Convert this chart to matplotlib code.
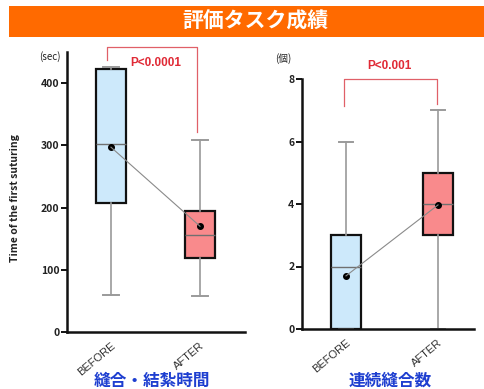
import matplotlib
matplotlib.use("Agg")
import matplotlib.pyplot as plt
from matplotlib.patches import Rectangle

plt.rcParams['font.family'] = ['Noto Sans CJK JP', 'DejaVu Sans']

# ---- data ----
groups = ["BEFORE", "AFTER"]

# Time of the first suturing (sec)
time_q1 = [207, 119]
time_med = [302, 156]
time_q3 = [422, 194]
time_lo = [60, 58]
time_hi = [426, 308]
time_mean = [297, 170]
time_p = "P<0.0001"

# Number of consecutive sutures
cnt_q1 = [0, 3]
cnt_med = [2, 4]
cnt_q3 = [3, 5]
cnt_lo = [0, 0]
cnt_hi = [6, 7]
cnt_mean = [1.7, 3.97]
cnt_p = "P<0.001"

title = "評価タスク成績"
sub_left = "縫合・結紮時間"
sub_right = "連続縫合数"

W, H = 485, 389
fig = plt.figure(figsize=(W / 100, H / 100), dpi=100)
fig.patch.set_facecolor("white")


def fx(x):
    return x / W


def fy(y):
    return 1 - y / H


# orange banner
fig.patches.append(Rectangle((fx(9), fy(37)), fx(485) - fx(9), fy(6) - fy(37),
                             transform=fig.transFigure, facecolor="#FF6A00",
                             edgecolor="none", zorder=0))
fig.text(fx(255), fy(21.5), title, color="white", fontsize=15, fontweight="bold",
         ha="center", va="center")

box_colors = ["#CDE9FB", "#F98A8C"]


def draw_panel(ax, q1, med, q3, lo, hi, mean, ylim, ticks, xlim, width):
    stats = []
    for i in range(2):
        stats.append(dict(med=med[i], q1=q1[i], q3=q3[i], whislo=lo[i],
                          whishi=hi[i], mean=mean[i], fliers=[]))
    bp = ax.bxp(stats, positions=[1, 2], widths=width, patch_artist=True,
                showmeans=True, showfliers=False,
                boxprops=dict(edgecolor="#111111", linewidth=1.6),
                whiskerprops=dict(color="#9a9a9a", linewidth=1.2),
                capprops=dict(color="#9a9a9a", linewidth=1.4),
                medianprops=dict(color="#707070", linewidth=1.0),
                meanprops=dict(marker="o", markerfacecolor="black",
                               markeredgecolor="black", markersize=4))
    for patch, c in zip(bp["boxes"], box_colors):
        patch.set_facecolor(c)
    ax.plot([1, 2], mean, color="#8a8a8a", linewidth=0.8, zorder=4)
    ax.set_xlim(*xlim)
    ax.set_ylim(*ylim)
    ax.set_yticks(ticks)
    ax.set_yticklabels([str(t) for t in ticks], fontsize=7.5, fontweight="bold",
                       color="#222222")
    ax.set_xticks([1, 2])
    ax.set_xticklabels(groups, rotation=40, ha="right", va="top",
                       rotation_mode="anchor", fontsize=8, color="#333333",
                       family=["Liberation Sans", "DejaVu Sans"])
    ax.tick_params(axis="x", length=0, pad=6)
    ax.tick_params(axis="y", length=4, width=1.3, pad=1.5, direction="out")
    for s in ["top", "right"]:
        ax.spines[s].set_visible(False)
    for s in ["left", "bottom"]:
        ax.spines[s].set_linewidth(1.8)
        ax.spines[s].set_color("#111111")


def bracket(ax, x0, x1, ytop, yl, yr, text, ty, tx):
    ax.plot([x0, x0, x1, x1], [yl, ytop, ytop, yr], color="#E06068",
            linewidth=0.9, clip_on=False)
    ax.text(tx, ty, text, color="#E02A36", fontsize=8.5, fontweight="bold",
            ha="center", va="center", clip_on=False,
            family=["Liberation Sans", "DejaVu Sans"])


# left panel
axL = fig.add_axes([fx(67), fy(332), fx(245) - fx(67), fy(52) - fy(332)])
draw_panel(axL, time_q1, time_med, time_q3, time_lo, time_hi, time_mean,
           (0, 450), [0, 100, 200, 300, 400], (0.506, 2.506), 0.34)
bracket(axL, 0.955, 1.97, 458, 437, 322, time_p, 432, 1.5)
axL.set_ylabel("Time of the first suturing", fontsize=7.5, fontweight="bold",
               color="#222222")
axL.yaxis.set_label_coords(-0.264, 0.48)
fig.text(fx(50), fy(57), "(sec)", fontsize=7, color="#222222",
         ha="center", va="center")
fig.text(fx(152), fy(381), sub_left, fontsize=12, fontweight="bold",
         color="#1E3FD0", ha="center", va="center")

# right panel
axR = fig.add_axes([fx(302), fy(329), fx(474) - fx(302), fy(79) - fy(329)])
draw_panel(axR, cnt_q1, cnt_med, cnt_q3, cnt_lo, cnt_hi, cnt_mean,
           (0, 8), [0, 2, 4, 6, 8], (0.522, 2.391), 0.32)
bracket(axR, 0.98, 1.99, 8.0, 7.14, 7.2, cnt_p, 8.42, 1.47)
fig.text(fx(283), fy(59), "(個)", fontsize=7, color="#222222",
         ha="center", va="center")
fig.text(fx(390), fy(381), sub_right, fontsize=12, fontweight="bold",
         color="#1E3FD0", ha="center", va="center")

fig.savefig("out.png", dpi=100)
